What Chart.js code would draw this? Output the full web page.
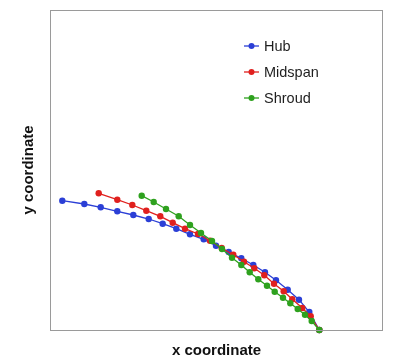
<!DOCTYPE html>
<html>
<head>
<meta charset="utf-8">
<script src="https://cdn.jsdelivr.net/npm/chart.js@4/dist/chart.umd.min.js"></script>
<style>
    html, body { margin: 0; padding: 0; background: #fff; }
    #chart { display: block; }
</style>
</head>
<body>
<canvas id="chart" width="400" height="364"></canvas>
<script>
const seriesNames = ['Hub', 'Midspan', 'Shroud'];
const seriesColors = ['#2b3fd6', '#e0201e', '#2ea11e'];

const hubX = [12.3, 34.3, 50.7, 67.3, 83.3, 98.7, 112.7, 126.3, 140, 153.7, 166, 178.7, 191.3, 203.3, 215, 226, 237.7, 249, 259.3, 269.3];
const hubY = [129.3, 126, 122.7, 118.7, 115, 111, 106.3, 101.3, 95.7, 90.7, 84.3, 78, 71.7, 65, 57.7, 49.7, 40.3, 30.3, 18, 0];

const midX = [48.7, 67.3, 82.3, 96.3, 110.3, 122.7, 135, 148, 160, 171.7, 183.3, 194, 204.3, 214.3, 224, 233.7, 242.3, 252.3, 260.7, 269.3];
const midY = [136.7, 130.3, 125, 119.3, 113.7, 107.3, 101.3, 96, 89.3, 82, 75.3, 68.3, 61.7, 54.7, 46.3, 38.7, 30.7, 22, 13.7, 0];

const shroudX = [91.7, 103.7, 116, 128.7, 140, 151, 162, 172, 182, 191.3, 199.7, 208.3, 217, 224.7, 233, 240.3, 247.7, 255, 261.7, 269.3];
const shroudY = [134.3, 128, 121, 113.7, 105, 97, 89, 81, 72.3, 65, 57.7, 50.7, 44.3, 38.3, 32.3, 26.7, 21, 15.3, 9, 0];

const xRange = [0, 333];
const yRange = [0, 320];

function zip(xs, ys) {
    return xs.map((x, i) => ({ x: x, y: ys[i] }));
}

const allSeries = [zip(hubX, hubY), zip(midX, midY), zip(shroudX, shroudY)];

// box around the plot + legend inside the plot area
const frameAndLegend = {
    id: 'frameAndLegend',
    afterDraw(chart) {
        const ctx = chart.ctx;
        const a = chart.chartArea;
        ctx.save();
        ctx.strokeStyle = '#9a9a9a';
        ctx.lineWidth = 1;
        ctx.strokeRect(a.left + 0.5, a.top + 0.5, a.right - a.left - 1, a.bottom - a.top);

        const lx = a.left + 194;
        let ly = a.top + 36;
        ctx.font = '14.5px "Liberation Sans", Arial, sans-serif';
        ctx.textBaseline = 'middle';
        chart.data.datasets.forEach((ds) => {
            ctx.strokeStyle = ds.borderColor;
            ctx.lineWidth = 1.3;
            ctx.beginPath();
            ctx.moveTo(lx, ly);
            ctx.lineTo(lx + 15, ly);
            ctx.stroke();
            ctx.fillStyle = ds.borderColor;
            ctx.beginPath();
            ctx.arc(lx + 7.5, ly, 3, 0, Math.PI * 2);
            ctx.fill();
            ctx.fillStyle = '#1e1e1e';
            ctx.fillText(ds.label, lx + 20, ly + 1);
            ly += 26;
        });
        ctx.restore();
    }
};

new Chart(document.getElementById('chart'), {
    type: 'scatter',
    data: {
        datasets: allSeries.map((pts, i) => ({
            label: seriesNames[i],
            data: pts,
            order: seriesNames.length - i, // shroud drawn on top
            showLine: true,
            borderColor: seriesColors[i],
            backgroundColor: seriesColors[i],
            borderWidth: 1.3,
            pointRadius: 3.2,
            pointBorderWidth: 0,
            clip: false
        }))
    },
    options: {
        responsive: false,
        animation: false,
        layout: {
            padding: { top: 10, right: 17, left: 0, bottom: 4 }
        },
        plugins: {
            legend: { display: false },
            tooltip: { enabled: false }
        },
        scales: {
            x: {
                type: 'linear',
                min: xRange[0],
                max: xRange[1],
                ticks: { display: false },
                grid: { display: false },
                border: { display: false },
                title: {
                    display: true,
                    text: 'x coordinate',
                    color: '#111',
                    font: { family: '"Liberation Sans", Arial, sans-serif', size: 15, weight: 'bold' },
                    padding: { top: 0, bottom: 0 }
                },
                afterFit: (scale) => { scale.height = 30; }
            },
            y: {
                type: 'linear',
                min: yRange[0],
                max: yRange[1],
                ticks: { display: false },
                grid: { display: false },
                border: { display: false },
                title: {
                    display: true,
                    text: 'y coordinate',
                    color: '#111',
                    font: { family: '"Liberation Sans", Arial, sans-serif', size: 15, weight: 'bold' },
                    padding: { top: 20, bottom: 0 }
                },
                afterFit: (scale) => { scale.width = 50; }
            }
        }
    },
    plugins: [frameAndLegend]
});
</script>
</body>
</html>
